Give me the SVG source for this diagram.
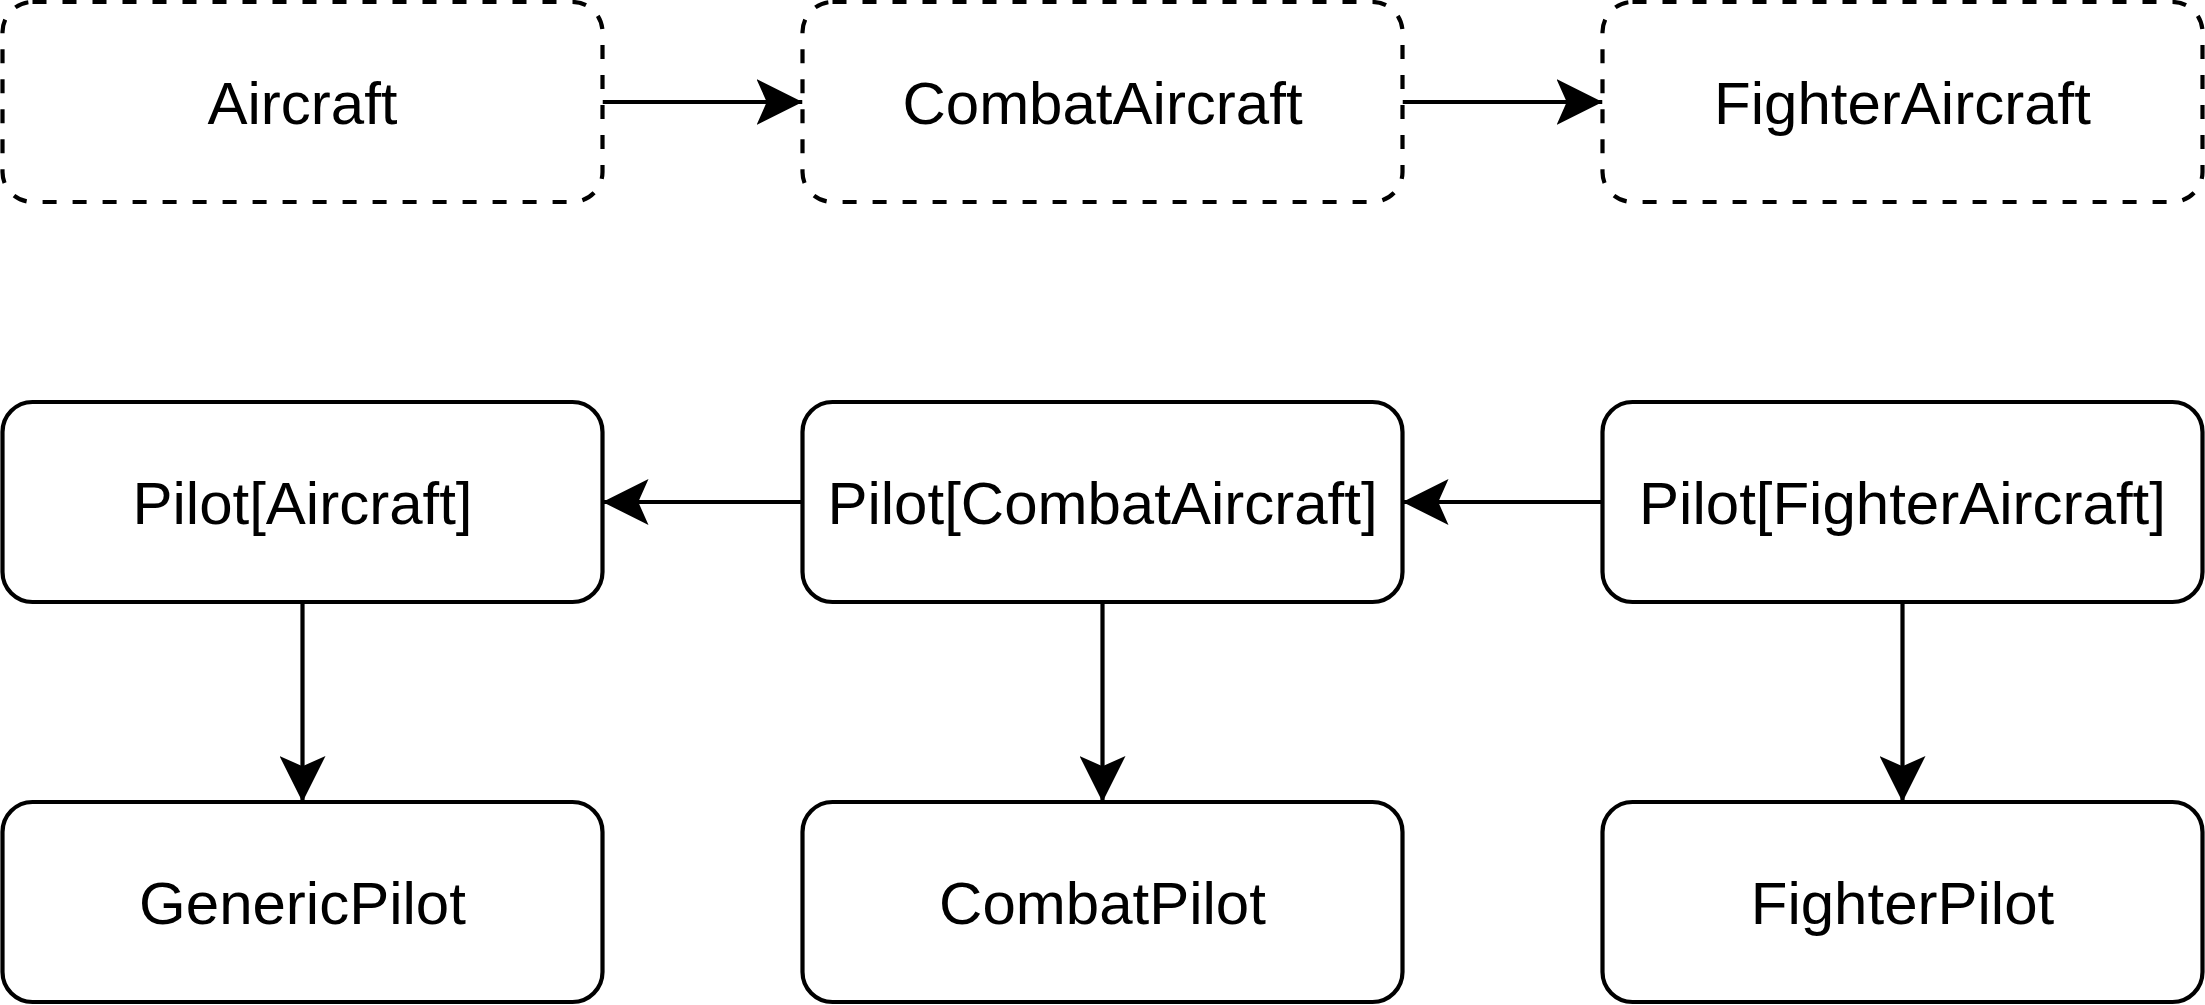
<svg xmlns="http://www.w3.org/2000/svg" width="2205" height="1005" viewBox="0 0 2205 1005">
  <style>
    .box { fill: #ffffff; stroke: #000000; stroke-width: 4.2; }
    .dashed { stroke-dasharray: 14 16; }
    .label { font-family: "Liberation Sans", Arial, sans-serif; font-size: 60px; fill: #000000; text-anchor: middle; }
    .edge { fill: none; stroke: #000000; stroke-width: 4.2; marker-end: url(#arrow); }
  </style>
  <defs>
    <marker id="arrow" markerUnits="userSpaceOnUse" markerWidth="46" markerHeight="46" viewBox="0 0 45 45" refX="45" refY="22.5" orient="auto">
      <path d="M0,0 L45,22.5 L0,45 L10,22.5 Z" fill="#000000"/>
    </marker>
  </defs>
  <rect width="2205" height="1005" fill="#ffffff"/>

  <g id="connectors">
    <line class="edge" x1="602.5" y1="102" x2="802.5" y2="102"/>
    <line class="edge" x1="1402.5" y1="102" x2="1602.5" y2="102"/>
    <line class="edge" x1="802.5" y1="502" x2="602.5" y2="502"/>
    <line class="edge" x1="1602.5" y1="502" x2="1402.5" y2="502"/>
    <line class="edge" x1="302.5" y1="602" x2="302.5" y2="802"/>
    <line class="edge" x1="1102.5" y1="602" x2="1102.5" y2="802"/>
    <line class="edge" x1="1902.5" y1="602" x2="1902.5" y2="802"/>
  </g>

  <g id="aircraft">
    <rect class="box dashed" x="2.5" y="2" width="600" height="200" rx="30" ry="30"/>
    <text class="label" x="302.5" y="124">Aircraft</text>
  </g>
  <g id="combat-aircraft">
    <rect class="box dashed" x="802.5" y="2" width="600" height="200" rx="30" ry="30"/>
    <text class="label" x="1102.5" y="124">CombatAircraft</text>
  </g>
  <g id="fighter-aircraft">
    <rect class="box dashed" x="1602.5" y="2" width="600" height="200" rx="30" ry="30"/>
    <text class="label" x="1902.5" y="124">FighterAircraft</text>
  </g>

  <g id="pilot-aircraft">
    <rect class="box" x="2.5" y="402" width="600" height="200" rx="30" ry="30"/>
    <text class="label" x="302.5" y="524">Pilot[Aircraft]</text>
  </g>
  <g id="pilot-combat-aircraft">
    <rect class="box" x="802.5" y="402" width="600" height="200" rx="30" ry="30"/>
    <text class="label" x="1102.5" y="524">Pilot[CombatAircraft]</text>
  </g>
  <g id="pilot-fighter-aircraft">
    <rect class="box" x="1602.5" y="402" width="600" height="200" rx="30" ry="30"/>
    <text class="label" x="1902.5" y="524">Pilot[FighterAircraft]</text>
  </g>

  <g id="generic-pilot">
    <rect class="box" x="2.5" y="802" width="600" height="200" rx="30" ry="30"/>
    <text class="label" x="302.5" y="924">GenericPilot</text>
  </g>
  <g id="combat-pilot">
    <rect class="box" x="802.5" y="802" width="600" height="200" rx="30" ry="30"/>
    <text class="label" x="1102.5" y="924">CombatPilot</text>
  </g>
  <g id="fighter-pilot">
    <rect class="box" x="1602.5" y="802" width="600" height="200" rx="30" ry="30"/>
    <text class="label" x="1902.5" y="924">FighterPilot</text>
  </g>
</svg>
